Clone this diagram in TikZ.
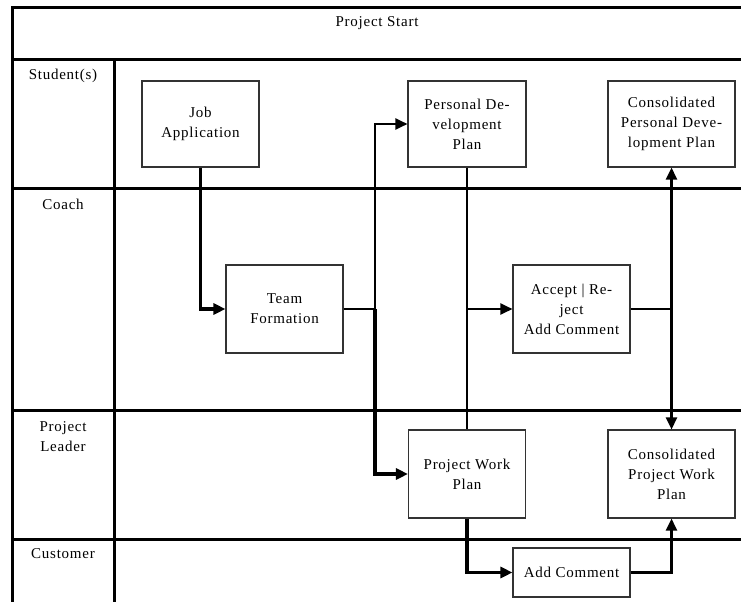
\documentclass[tikz,border=0pt]{standalone}
\usepackage{fontspec}
\setmainfont{Liberation Serif}[LetterSpace=5]
\usetikzlibrary{arrows.meta}
\begin{document}
\begin{tikzpicture}[x=1pt,y=-1pt,
  every node/.style={font=\fontsize{15}{20}\selectfont, align=center, inner sep=0pt},
  lane/.style={line width=3pt, black},
  box/.style={draw=black!80, line width=1.1pt, fill=white},
  conn/.style={line width=2.4pt, black, -{Triangle[length=12pt,width=11pt]}},
  plain/.style={line width=2.4pt, black},
  heavy/.style={line width=3.4pt}
]
\useasboundingbox (0,0) rectangle (741,602);
\fill[white] (0,0) rectangle (741,602);
% swimlane frame
\draw[lane] (12,8) -- (741,8);
\draw[lane] (12,60) -- (741,60);
\draw[lane] (12,188) -- (741,188);
\draw[lane] (12,410) -- (741,410);
\draw[lane] (12,539) -- (741,539);
\draw[lane] (12,6.5) -- (12,602);
\draw[lane] (114,60) -- (114,602);
% labels
\node (title) at (377,23) {Project Start};
\node (lstud) at (63,76) {Student(s)};
\node (lcoach) at (63,204) {Coach};
\node (lpl) at (63,437) {Project\\Leader};
\node (lcust) at (63,554) {Customer};
% boxes
\node[box, minimum width=117pt, minimum height=86pt] (job) at (200.5,124) {Job\\Application};
\node[box, minimum width=118pt, minimum height=86pt] (pdp) at (467,124) {Personal De-\\velopment\\Plan};
\node[box, minimum width=127pt, minimum height=86pt] (cpdp) at (671.5,124) {Consolidated\\Personal Deve-\\lopment Plan};
\node[box, minimum width=117pt, minimum height=88pt] (team) at (284.5,309) {Team\\Formation};
\node[box, minimum width=117pt, minimum height=88pt] (acc) at (571.5,309) {Accept | Re-\\ject\\Add Comment};
\node[box, minimum width=117pt, minimum height=88pt] (pwp) at (467,474) {Project Work\\Plan};
\node[box, minimum width=127pt, minimum height=88pt] (cpwp) at (671.5,474) {Consolidated\\Project Work\\Plan};
\node[box, minimum width=117pt, minimum height=49pt] (addc) at (571.5,572.5) {Add Comment};
% junctions
\coordinate (j1) at (375,309);
\coordinate (j2) at (pdp.south |- acc.west);
\coordinate (j3) at (cpdp.south |- acc.east);
% connectors
\draw[conn, heavy] (job.south) |- (team.west);
\draw[plain] (team.east) -- (j1);
\draw[conn] (j1) |- (pdp.west);
\draw[conn, heavy] (j1) |- (pwp.west);
\draw[plain] (pdp.south) -- (pwp.north);
\draw[conn] (j2) -- (acc.west);
\draw[plain] (acc.east) -- (j3);
\draw[conn] (j3) -- (cpdp.south);
\draw[conn] (j3) -- (cpwp.north);
\draw[conn, heavy] (pwp.south) |- (addc.west);
\draw[conn] (addc.east) -| (cpwp.south);
\end{tikzpicture}
\end{document}
